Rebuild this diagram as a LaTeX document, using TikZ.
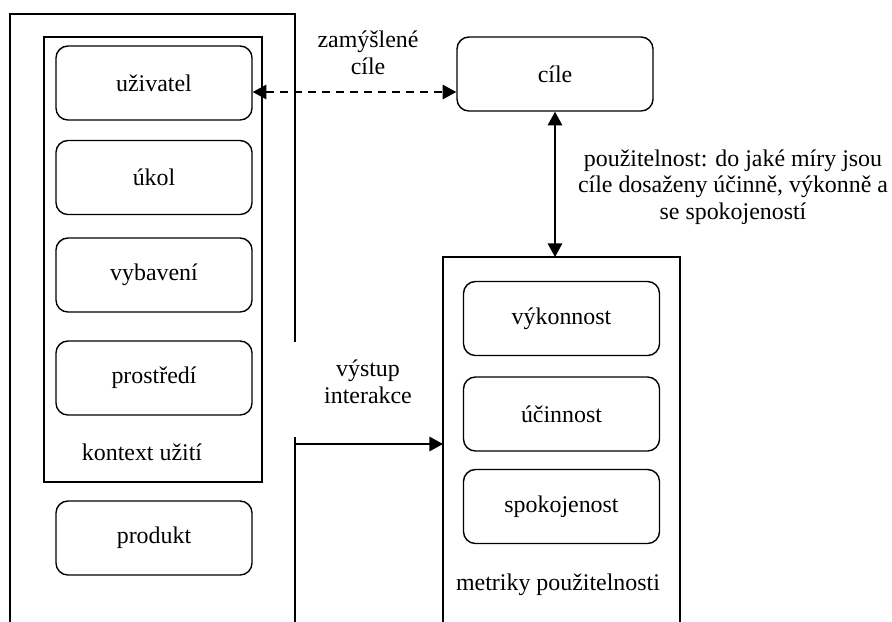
\documentclass[tikz,border=0pt]{standalone}
\usepackage{fontspec}
\setmainfont{Liberation Serif}
\usetikzlibrary{arrows.meta}

\begin{document}
\begin{tikzpicture}[
  x=0.025cm, y=-0.025cm,
  >={Triangle[length=3.4mm,width=3.6mm]},
  every node/.style = {font=\fontsize{17}{19}\selectfont},
  frame/.style = {line width=1.2pt},
  item/.style  = {draw, rounded corners=0.3cm, line width=1pt,
                  minimum width=4.9cm, minimum height=1.85cm, inner sep=0pt},
  conn/.style  = {line width=1.2pt},
  lbl/.style   = {align=center},
]
\clip (0,0) rectangle (892,621);

%% ------------------------------------------------------------------ FRAMES
% outer frame (open at the bottom, gap on its right edge)
\draw[frame] (10,640) -- (10,14) -- (295,14) -- (295,342);
\draw[frame] (295,437) -- (295,640);
% context of use
\draw[frame] (44,37) rectangle (262,482);
% usability metrics (open at the bottom)
\draw[frame] (443,640) -- (443,257) -- (680,257) -- (680,640);
\coordinate (metrikyTL) at (443,257);
\coordinate (vystup)    at (295,444);

%% ------------------------------------------------------------------ BOXES
\node[item] (uzivatel)    at (154,83)    {uživatel};
\node[item] (ukol)        at (154,177.5) {úkol};
\node[item] (vybaveni)    at (154,275)   {vybavení};
\node[item] (prostredi)   at (154,378)   {prostředí};
\node[item] (produkt)     at (154,538)   {produkt};

\node[item] (cile)        at (555,74)    {cíle};

\node[item] (vykonnost)   at (561.5,318.5) {výkonnost};
\node[item] (ucinnost)    at (561.5,414)   {účinnost};
\node[item] (spokojenost) at (561.5,506.5) {spokojenost};

%% ------------------------------------------------------------------ LABELS
\node (kontext) at (142,452) {kontext užití};
\node (metriky) at (558,585) {metriky použitelnosti};
\node[lbl] (zamysl) at (368,53)  {zamýšlené\\cíle};
\node[lbl] (vyst)   at (368,382) {výstup\\interakce};
\node[lbl] (pouz)   at (733,187)
  {použitelnost: do jaké míry jsou\\cíle dosaženy účinně, výkonně a\\se spokojeností};

%% ------------------------------------------------------------------ ARROWS
\coordinate (zam) at ([yshift=-0.225cm]uzivatel.east);
\draw[conn, <->, dash pattern=on 2mm off 1.5mm] (zam) -- (zam -| cile.west);
\draw[conn, <->] (cile.south) -- (cile.south |- metrikyTL);
\draw[conn, ->] (vystup) -- (vystup -| metrikyTL);

\end{tikzpicture}
\end{document}
